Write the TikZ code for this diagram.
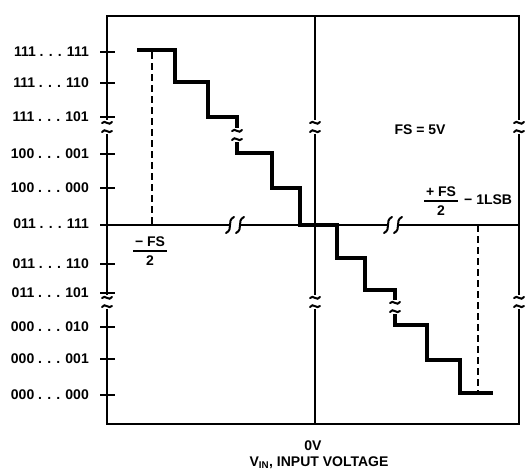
\documentclass[tikz,border=0pt]{standalone}
\usepackage{fontspec}
\setmainfont{Liberation Sans}
\begin{document}
\begin{tikzpicture}[x=1pt,y=-1pt,
  frame/.style={line width=2.8pt},
  stair/.style={line width=4.8pt},
  tickmark/.style={line width=1.9pt},
  dashline/.style={line width=1.5pt, dash pattern=on 7pt off 4pt},
  lbl/.style={font=\fontsize{14}{16}\selectfont\bfseries, inner sep=0pt},
  vbrk/.pic={
    \fill[white] (-7,-7) rectangle (7,7);
    \draw[line width=2pt, line cap=round] (-5,-4) .. controls (-2,-8) and (2,0) .. (5,-5);
    \draw[line width=2pt, line cap=round] (-5,5) .. controls (-2,0) and (2,8) .. (5,4);
  },
  hbrk/.pic={
    \fill[white] (-5,-5) rectangle (5,5);
    \draw[line width=2pt, line cap=round] (-9,8) .. controls (-1,4) and (-9,-4) .. (-1,-8);
    \draw[line width=2pt, line cap=round] (1,8) .. controls (9,4) and (1,-4) .. (9,-8);
  }]
\useasboundingbox (0,0) rectangle (528,472);

% frame and axes
\draw[frame] (107,16) rectangle (519,424);
\draw[frame] (315,16) -- (315,424);
\draw[frame] (100,225) -- (519,225);

% ticks on left axis
\foreach \yy in {52,83,117,154,188,264,293,327,359,395}
  \draw[tickmark] (100,\yy) -- (115,\yy);

% dashed lines
\draw[dashline] (152,52) -- (152,225);
\draw[dashline] (478,225) -- (478,393);
\draw[tickmark] (152,218) -- (152,225);
\draw[tickmark] (478,225) -- (478,232);

% staircase
\draw[stair] (137,50) -| (175,82) -| (208,117) -| (237,153) -| (272,188) -| (300,225)
  -| (337,258) -| (365,290) -| (395,325) -| (427,360) -| (460,393) -- (493,393);

% breaks
\foreach \xx in {107,315,519} {
  \pic at (\xx,127) {vbrk};
  \pic at (\xx,302) {vbrk};
}
\pic at (237,135) {vbrk};
\pic at (395,307) {vbrk};
\pic at (235,225) {hbrk};
\pic at (393,225) {hbrk};

% code labels
\node[lbl, anchor=east] (c1) at (89,52) {111 . . . 111};
\node[lbl, anchor=east] (c2) at (89,83) {111 . . . 110};
\node[lbl, anchor=east] (c3) at (89,117) {111 . . . 101};
\node[lbl, anchor=east] (c4) at (89,154) {100 . . . 001};
\node[lbl, anchor=east] (c5) at (89,188) {100 . . . 000};
\node[lbl, anchor=east] (c6) at (89,224) {011 . . . 111};
\node[lbl, anchor=east] (c7) at (89,264) {011 . . . 110};
\node[lbl, anchor=east] (c8) at (89,293) {011 . . . 101};
\node[lbl, anchor=east] (c9) at (89,327) {000 . . . 010};
\node[lbl, anchor=east] (c10) at (89,359) {000 . . . 001};
\node[lbl, anchor=east] (c11) at (89,395) {000 . . . 000};

% other labels
\node[lbl] (fs) at (420,130) {FS = 5V};
\node[lbl] (pfsn) at (441,192) {+ FS};
\node[lbl] (pfsd) at (441,211) {2};
\draw[line width=1.3pt] (424,201) -- (458,201);
\node[lbl, anchor=west] (lsb) at (464,200) {− 1LSB};
\node[lbl] (mfsn) at (150,242) {− FS};
\node[lbl] (mfsd) at (150,261) {2};
\draw[line width=1.3pt] (133,251) -- (167,251);
\node[lbl] (zero) at (313,446) {0V};
\node[lbl] (xlab) at (319,463) {V\textsubscript{IN}, INPUT VOLTAGE};
\end{tikzpicture}
\end{document}
